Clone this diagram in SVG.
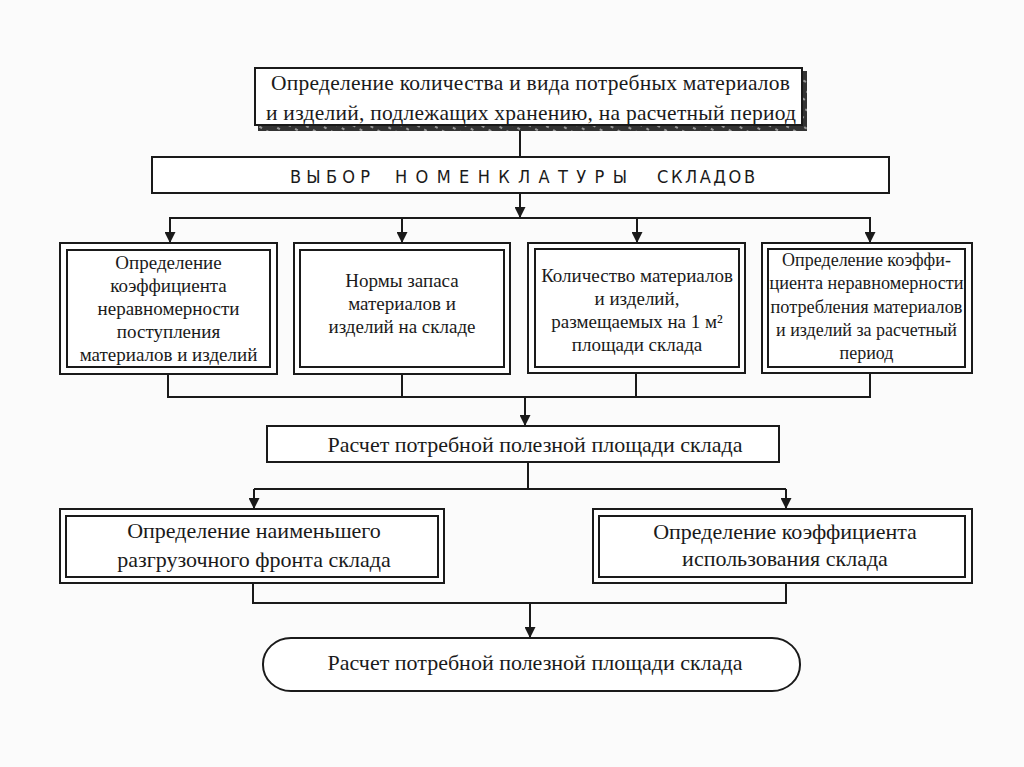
<svg xmlns="http://www.w3.org/2000/svg" width="1024" height="767" viewBox="0 0 1024 767">
<style>
  .bg{fill:#fbfbfb}
  .box{fill:#ffffff;stroke:#1a1a1a;stroke-width:2}
  .inner{fill:none;stroke:#1a1a1a;stroke-width:2}
  .t{font-family:"Liberation Serif","Times New Roman",serif;fill:#1a1a1a;text-anchor:middle;dominant-baseline:central}
  .t18{font-size:18px}
  .t19{font-size:19px}
  .t21{font-size:21.5px}
  .t22{font-size:22px}
  .title{font-family:"DejaVu Sans Condensed","DejaVu Sans",sans-serif;font-size:18px;fill:#1a1a1a;dominant-baseline:central}
  .conn{fill:none;stroke:#1a1a1a;stroke-width:2}
</style>
<defs>
  <marker id="arr" viewBox="0 0 10 10" refX="10" refY="5" markerWidth="11" markerHeight="11" markerUnits="userSpaceOnUse" orient="auto">
    <path d="M0,0 L10,5 L0,10 Z" fill="#1a1a1a"/>
  </marker>
  <pattern id="hatch" width="8" height="8" patternUnits="userSpaceOnUse" patternTransform="rotate(30)">
    <rect width="8" height="8" fill="#333"/>
    <line x1="0" y1="4" x2="3" y2="4" stroke="#bbb" stroke-width="1.5"/>
  </pattern>
</defs>
<rect class="bg" x="0" y="0" width="1024" height="767"/>

<g id="connectors">
  <line class="conn" x1="520" y1="126" x2="520" y2="157"/>
  <line class="conn" x1="520" y1="193" x2="520" y2="218" marker-end="url(#arr)"/>
  <line class="conn" x1="169" y1="218" x2="871" y2="218"/>
  <line class="conn" x1="170" y1="218" x2="170" y2="243" marker-end="url(#arr)"/>
  <line class="conn" x1="402" y1="218" x2="402" y2="243" marker-end="url(#arr)"/>
  <line class="conn" x1="637" y1="218" x2="637" y2="243" marker-end="url(#arr)"/>
  <line class="conn" x1="870" y1="218" x2="870" y2="243" marker-end="url(#arr)"/>
  <polyline class="conn" points="168,374 168,397 870,397 870,373"/>
  <line class="conn" x1="402" y1="374" x2="402" y2="397"/>
  <line class="conn" x1="636" y1="373" x2="636" y2="397"/>
  <line class="conn" x1="525" y1="397" x2="525" y2="426" marker-end="url(#arr)"/>
  <line class="conn" x1="528" y1="462" x2="528" y2="489"/>
  <line class="conn" x1="254" y1="489" x2="786" y2="489"/>
  <line class="conn" x1="254" y1="489" x2="254" y2="509" marker-end="url(#arr)"/>
  <line class="conn" x1="786" y1="489" x2="786" y2="509" marker-end="url(#arr)"/>
  <polyline class="conn" points="253,583 253,603 786,603 786,583"/>
  <line class="conn" x1="530" y1="603" x2="530" y2="638" marker-end="url(#arr)"/>
</g>

<g id="n-top">
  <polygon points="258,125 802,125 802,71 807,71 807,131 258,131" fill="url(#hatch)"/>
  <rect class="box" x="255" y="68" width="547" height="57"/>
  <text class="t t21" x="530.5" y="83" textLength="519" lengthAdjust="spacing">Определение количества и вида потребных материалов</text>
  <text class="t t21" x="531" y="113" textLength="530" lengthAdjust="spacing">и изделий, подлежащих хранению, на расчетный период</text>
</g>

<g id="n-vybor">
  <rect class="box" x="152" y="157" width="737" height="36"/>
  <text class="title" x="290" y="176" textLength="80" lengthAdjust="spacing">ВЫБОР</text>
  <text class="title" x="395" y="176" textLength="232" lengthAdjust="spacing">НОМЕНКЛАТУРЫ</text>
  <text class="title" x="657" y="176" textLength="98" lengthAdjust="spacing">СКЛАДОВ</text>
</g>

<g id="n-b1">
  <rect class="box" x="60" y="243" width="217" height="131"/>
  <rect class="inner" x="67" y="250" width="203" height="117"/>
  <text class="t t19" x="168.5" y="262">Определение</text>
  <text class="t t19" x="168.5" y="285">коэффициента</text>
  <text class="t t19" x="168.5" y="308">неравномерности</text>
  <text class="t t19" x="168.5" y="331">поступления</text>
  <text class="t t19" x="168.5" y="354">материалов и изделий</text>
</g>

<g id="n-b2">
  <rect class="box" x="294" y="243" width="216" height="131"/>
  <rect class="inner" x="300" y="250" width="204" height="117"/>
  <text class="t t19" x="402" y="280">Нормы запаса</text>
  <text class="t t19" x="402" y="303">материалов и</text>
  <text class="t t19" x="402" y="326">изделий на складе</text>
</g>

<g id="n-b3">
  <rect class="box" x="528" y="243" width="217" height="130"/>
  <rect class="inner" x="535" y="249" width="204" height="118"/>
  <text class="t t19" x="637" y="275">Количество материалов</text>
  <text class="t t19" x="637" y="298">и изделий,</text>
  <text class="t t19" x="637" y="321">размещаемых на 1 м²</text>
  <text class="t t19" x="637" y="344">площади склада</text>
</g>

<g id="n-b4">
  <rect class="box" x="762" y="243" width="210" height="130"/>
  <rect class="inner" x="768" y="249" width="197" height="118"/>
  <text class="t t18" x="866.5" y="260">Определение коэффи-</text>
  <text class="t t18" x="866.5" y="283" textLength="194" lengthAdjust="spacingAndGlyphs">циента неравномерности</text>
  <text class="t t18" x="866.5" y="307" textLength="192" lengthAdjust="spacingAndGlyphs">потребления материалов</text>
  <text class="t t18" x="866.5" y="330">и изделий за расчетный</text>
  <text class="t t18" x="866.5" y="353">период</text>
</g>

<g id="n-raschet">
  <rect class="box" x="267" y="426" width="512" height="36"/>
  <text class="t t22" x="535" y="444">Расчет потребной полезной площади склада</text>
</g>

<g id="n-front">
  <rect class="box" x="60" y="509" width="384" height="74"/>
  <rect class="inner" x="66" y="516" width="372" height="61"/>
  <text class="t t22" x="254" y="530">Определение наименьшего</text>
  <text class="t t22" x="254" y="559">разгрузочного фронта склада</text>
</g>

<g id="n-koef">
  <rect class="box" x="593" y="509" width="379" height="74"/>
  <rect class="inner" x="599" y="516" width="366" height="61"/>
  <text class="t t22" x="785" y="531">Определение коэффициента</text>
  <text class="t t22" x="785" y="558">использования склада</text>
</g>

<g id="n-final">
  <rect class="box" x="263" y="638" width="537" height="53" rx="28" ry="26"/>
  <text class="t t22" x="535" y="662">Расчет потребной полезной площади склада</text>
</g>
</svg>
